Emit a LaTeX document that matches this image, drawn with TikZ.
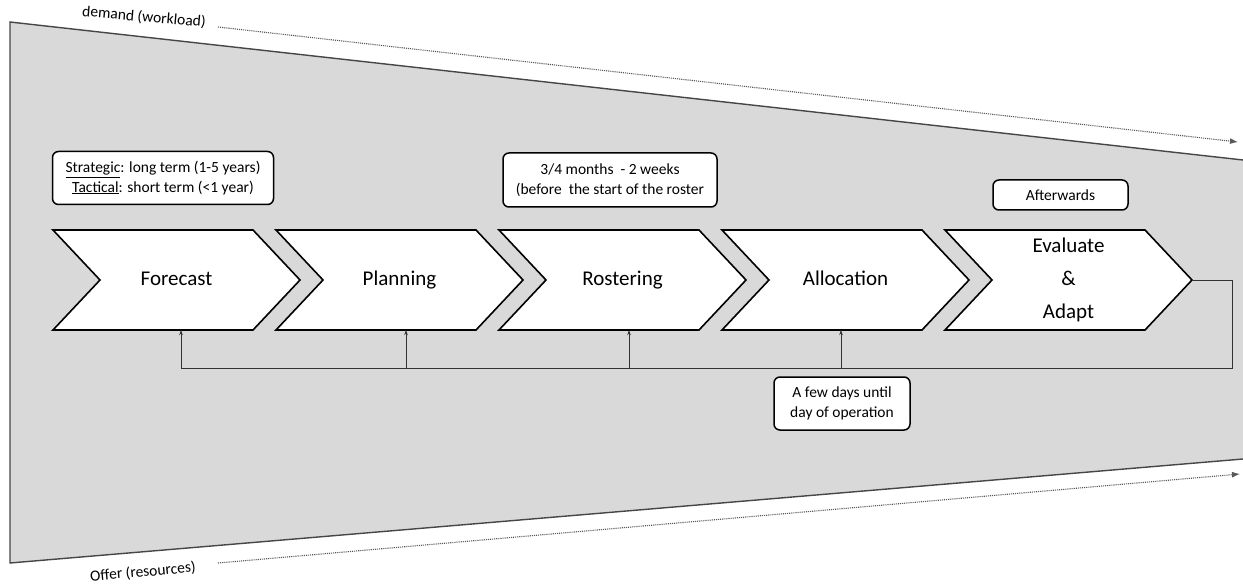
\documentclass[tikz,border=0pt]{standalone}
\usepackage{fontspec}
\setmainfont{Carlito}
\usetikzlibrary{arrows.meta}
\pgfdeclarelayer{back}
\pgfdeclarelayer{mid}
\pgfsetlayers{back,mid,main}
\definecolor{regiongray}{RGB}{217,217,217}
\definecolor{edgegray}{RGB}{70,70,70}
\begin{document}
\begin{tikzpicture}[x=1pt,y=-1pt,
  chevbox/.style={minimum width=247pt,minimum height=100pt,inner sep=0pt,outer sep=0pt,font=\fontsize{21}{33}\selectfont,align=center},
  chevone/.style={chevbox,text height=15pt,text depth=3pt},
  chevline/.style={draw=black,fill=white,line width=1.6pt,line join=miter},
  notebox/.style={draw=black,fill=white,line width=1.5pt,rounded corners=6pt,inner sep=0pt,align=center,font=\fontsize{15.5}{19.5}\selectfont},
  fb/.style={draw=black!80,line width=0.8pt},
  fbarrow/.style={fb,-{Stealth[length=5pt,width=3.5pt]}},
  flow/.style={draw=black!65,line width=1.1pt,densely dotted,-{Latex[length=8pt,width=6pt]}},
  axislabel/.style={font=\fontsize{15.5}{18}\selectfont}
]
\useasboundingbox (0,0) rectangle (1243,588);
\begin{pgfonlayer}{back}
\fill[regiongray] (10,22) -- (1243,160) -- (1243,459) -- (10,563) -- cycle;
\draw[edgegray,line width=1.4pt] (1243,160) -- (10,22) -- (10,563) -- (1243,459);
\end{pgfonlayer}

% process steps
\node[chevone] (fc) at (176.5,280) {Forecast};
\node[chevone] (pl) at (399.5,280) {Planning};
\node[chevone] (ro) at (622.5,280) {Rostering};
\node[chevone] (al) at (845.5,280) {Allocation};
\node[chevbox] (ev) at (1068.5,280) {Evaluate\\\&\\Adapt};

\begin{pgfonlayer}{mid}
\foreach \n in {fc,pl,ro,al,ev}
  \draw[chevline] (\n.north west) -- ([xshift=200pt]\n.north west) -- (\n.east)
    -- ([xshift=200pt]\n.south west) -- (\n.south west) -- ([xshift=47pt]\n.west) -- cycle;
\end{pgfonlayer}

% feedback loop
\coordinate (t1) at ([xshift=4.5pt]fc.south);
\coordinate (t2) at ([xshift=6.5pt]pl.south);
\coordinate (t3) at ([xshift=6.5pt]ro.south);
\coordinate (t4) at ([xshift=-4.5pt]al.south);
\coordinate (lr) at (1232,368);
\draw[fb] (ev.east) -| (lr) -- (lr -| t1);
\foreach \t in {t1,t2,t3,t4}
  \draw[fbarrow] (lr -| \t) -- (\t);

% notes
\node[notebox,minimum width=221pt,minimum height=53pt] (strat) at (163,178)
  {\underline{Strategic}: long term (1-5 years)\\\underline{Tactical}: short term (<1 year)};
\node[notebox,minimum width=214pt,minimum height=54pt] (rost) at (610,180)
  {3/4 months~ - 2 weeks\\(before~ the start of the roster};
\node[notebox,minimum width=135pt,minimum height=30pt] (aft) at (1060.5,195) {Afterwards};
\node[notebox,minimum width=136pt,minimum height=53pt] (days) at (842,403.5)
  {A few days until\\day of operation};

% demand / offer flows
\node[axislabel,rotate=-5] (dem) at (144,17) {demand (workload)};
\node[axislabel,rotate=5] (off) at (143,572) {Offer (resources)};
\coordinate (d0) at (218,27);
\coordinate (d1) at (1238,142);
\coordinate (o0) at (218,563);
\coordinate (o1) at (1240,474);
\draw[flow] (d0) -- (d1);
\draw[flow] (o0) -- (o1);
\end{tikzpicture}
\end{document}
